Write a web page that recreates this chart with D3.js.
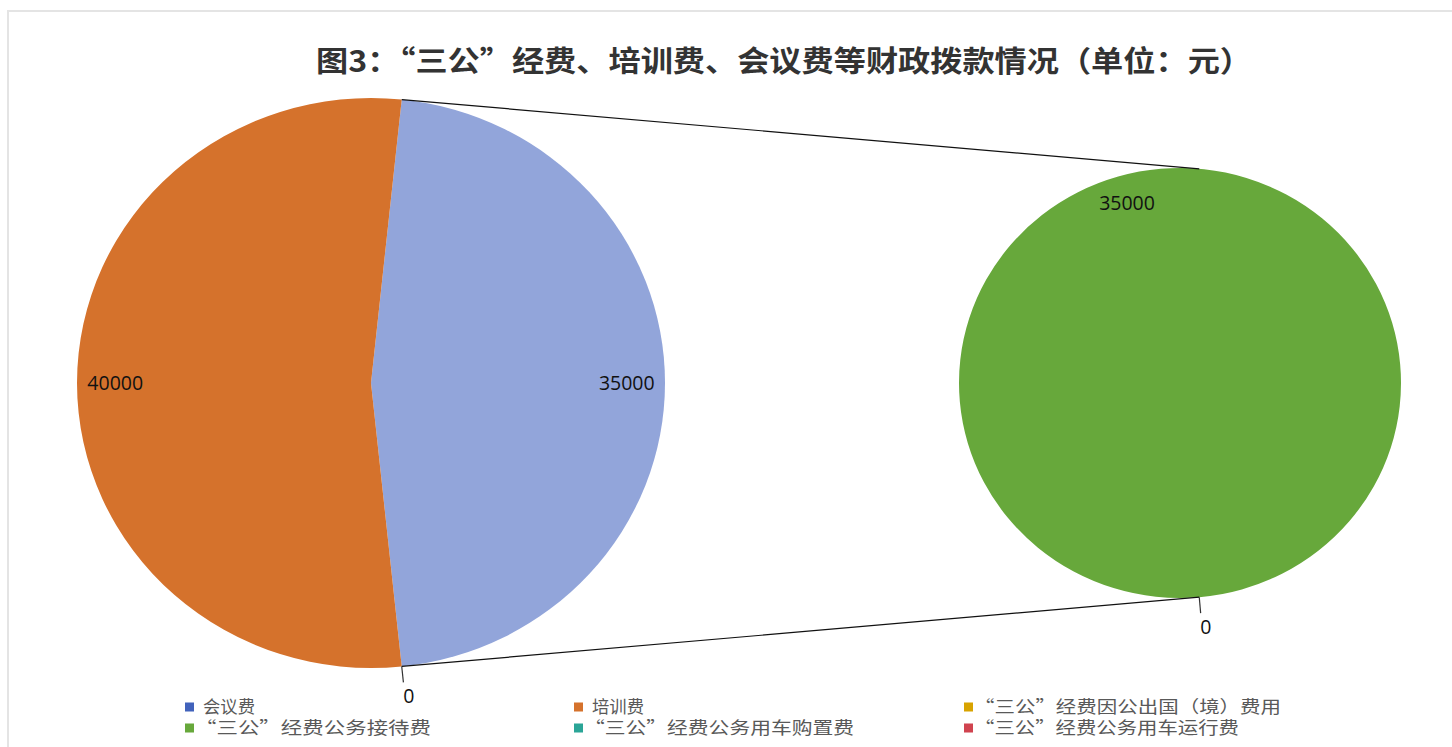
<!DOCTYPE html>
<html><head><meta charset="utf-8">
<script src="https://cdn.jsdelivr.net/npm/d3@7"></script>
<style>body{margin:0;background:#fff}svg{display:block}</style>
</head><body>
<svg id="c" width="1452" height="747"></svg>
<script>
const title = "图3：“三公”经费、培训费、会议费等财政拨款情况（单位：元）";
const legendCats = ["会议费","培训费","“三公”经费因公出国（境）费用","“三公”经费公务接待费","“三公”经费公务用车购置费","“三公”经费公务用车运行费"];
const legendColors = ["#4162BB","#D5722C","#D8A300","#67A83B","#2BA597","#D0434F"];
// primary pie (clockwise from the "other" slice)
const leftCats = ["其他","会议费","培训费"];
const leftValues = [35000, 0, 40000];
const leftColors = ["#92A5DA","#4162BB","#D5722C"];
// secondary pie
const rightCats = ["“三公”经费因公出国（境）费用","“三公”经费公务接待费"];
const rightValues = [0, 35000];
const rightColors = ["#D8A300","#67A83B"];

const svg = d3.select("#c");
const deg = Math.PI/180;

// frame
svg.append("path").attr("d","M8,747 V11 H1452").attr("fill","none").attr("stroke","#e4e4e4").attr("stroke-width",2);

svg.append("text").attr("x",784).attr("y",72).attr("text-anchor","middle")
  .attr("font-family","'Noto Sans CJK SC'").attr("font-weight","bold").attr("font-size",29)
  .attr("fill","#333").attr("textLength",936).attr("lengthAdjust","spacingAndGlyphs").text(title);

function drawPie(cx, cy, rx, ry, values, colors, startDeg, labelShift){
  const pie = d3.pie().sort(null).value(d=>d).startAngle(startDeg*deg).endAngle(startDeg*deg+2*Math.PI);
  const arcs = pie(values);
  const g = svg.append("g");
  const gs = g.append("g").attr("transform",`translate(${cx},${cy}) scale(${rx/ry},1)`);
  const arc = d3.arc().innerRadius(0).outerRadius(ry);
  gs.selectAll("path").data(arcs).join("path").attr("d",arc).attr("fill",(d,i)=>colors[i]);
  const pt = (a, f, extra=0)=>[cx + Math.sin(a)*(rx*f+extra), cy - Math.cos(a)*(ry*f+extra)];
  arcs.forEach((d,i)=>{
    const mid = (d.startAngle+d.endAngle)/2;
    if(d.value>0){
      const full = d.endAngle-d.startAngle > 6;
      const [x,y] = pt(mid + (full?labelShift*deg:0), 0.87);
      g.append("text").attr("x",x).attr("y",y+7).attr("text-anchor","middle")
        .attr("font-family","'Open Sans'").attr("font-size",19.5).attr("fill","#111").text(d3.format("d")(d.value));
    } else {
      const [x1,y1] = pt(mid,1), [x2,y2] = pt(mid,1,16);
      g.append("line").attr("x1",x1).attr("y1",y1).attr("x2",x2).attr("y2",y2).attr("stroke","#333").attr("stroke-width",1.2);
      const [lx,ly] = pt(mid,1,30);
      g.append("text").attr("x",lx+4).attr("y",ly+7).attr("text-anchor","middle")
        .attr("font-family","'Open Sans'").attr("font-size",19.5).attr("fill","#111").text(d.value);
    }
  });
  return {arcs, pt};
}

const L = drawPie(371, 383, 294, 285, leftValues, leftColors, 6, 0);
const R = drawPie(1180, 383, 221, 215, rightValues, rightColors, 175, -11);

// connector lines from the "other" slice to the secondary pie
const o = L.arcs[0];
const [ax,ay] = L.pt(o.startAngle,1), [bx,by] = L.pt(o.endAngle,1);
const [rtx,rty] = R.pt(5*deg,1), [rbx,rby] = R.pt(175*deg,1);
svg.append("line").attr("x1",ax).attr("y1",ay).attr("x2",rtx).attr("y2",rty).attr("stroke","#111").attr("stroke-width",1.2);
svg.append("line").attr("x1",bx).attr("y1",by).attr("x2",rbx).attr("y2",rby).attr("stroke","#111").attr("stroke-width",1.2);

// legend
const colX = [185, 574, 964], rowY = [707, 728];
const lgLen = [52, 52, 307, 236, 270, 265];
const lg = svg.append("g");
legendCats.forEach((c,i)=>{
  const x = colX[i%3], y = rowY[Math.floor(i/3)];
  const q = c.startsWith("“");
  lg.append("rect").attr("x",x).attr("y",y-4.5).attr("width",9).attr("height",9).attr("fill",legendColors[i]);
  lg.append("text").attr("x",x+(q?10:18)).attr("y",y+6).attr("font-family","'Noto Sans CJK SC'")
    .attr("font-size",17).attr("fill","#595959")
    .attr("textLength",lgLen[i]).attr("lengthAdjust","spacingAndGlyphs").text(c);
});
</script>
</body></html>
